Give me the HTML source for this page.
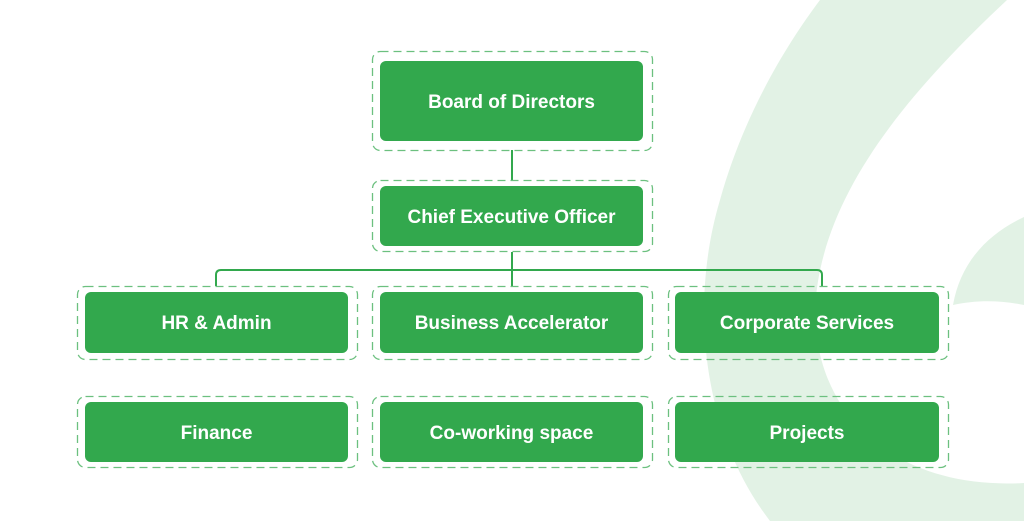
<!DOCTYPE html>
<html><head><meta charset="utf-8"><style>
body{margin:0;width:1024px;height:521px;background:#fff;position:relative;overflow:hidden;font-family:"Liberation Sans",sans-serif}
svg{position:absolute;left:0;top:0}
.b{position:absolute;background:#32a84d;border-radius:6px;color:#fff;font-weight:bold;font-size:19px;display:flex;align-items:center;justify-content:center;white-space:nowrap;padding-top:3px;box-sizing:border-box}
</style></head><body>
<svg width="1024" height="521">
<path d="M820,0 L1007,0 C900,100 820,200 815,310 C815,420 900,490 1024,483 L1024,521 L770,521 C700,430 690,300 720,200 C745,110 790,40 820,0Z" fill="#e2f2e5"/>
<path d="M1024,217 C985,235 960,265 953,305 C975,300 1000,300 1024,305 Z" fill="#e2f2e5"/>
<g stroke="#32a84d" stroke-width="2" fill="none">
<line x1="512" y1="150" x2="512" y2="180"/>
<line x1="512" y1="252" x2="512" y2="286"/>
<path d="M216,286 L216,275 Q216,270 221,270 L817,270 Q822,270 822,275 L822,286"/>
</g>
<g stroke="#6cc07f" stroke-width="1.3" fill="none" stroke-dasharray="8 5">
<rect x="372.5" y="51.5" width="280" height="99" rx="8"/>
<rect x="372.5" y="180.5" width="280" height="71" rx="8"/>
<rect x="77.5" y="286.5" width="280" height="73" rx="8"/>
<rect x="372.5" y="286.5" width="280" height="73" rx="8"/>
<rect x="668.5" y="286.5" width="280" height="73" rx="8"/>
<rect x="77.5" y="396.5" width="280" height="71" rx="8"/>
<rect x="372.5" y="396.5" width="280" height="71" rx="8"/>
<rect x="668.5" y="396.5" width="280" height="71" rx="8"/>
</g>
</svg>
<div class="b" style="left:380px;top:61px;width:263px;height:80px">Board of Directors</div>
<div class="b" style="left:380px;top:186px;width:263px;height:60px">Chief Executive Officer</div>
<div class="b" style="left:85px;top:292px;width:263px;height:61px">HR &amp; Admin</div>
<div class="b" style="left:380px;top:292px;width:263px;height:61px">Business Accelerator</div>
<div class="b" style="left:675px;top:292px;width:264px;height:61px">Corporate Services</div>
<div class="b" style="left:85px;top:402px;width:263px;height:60px">Finance</div>
<div class="b" style="left:380px;top:402px;width:263px;height:60px">Co-working space</div>
<div class="b" style="left:675px;top:402px;width:264px;height:60px">Projects</div>
</body></html>
